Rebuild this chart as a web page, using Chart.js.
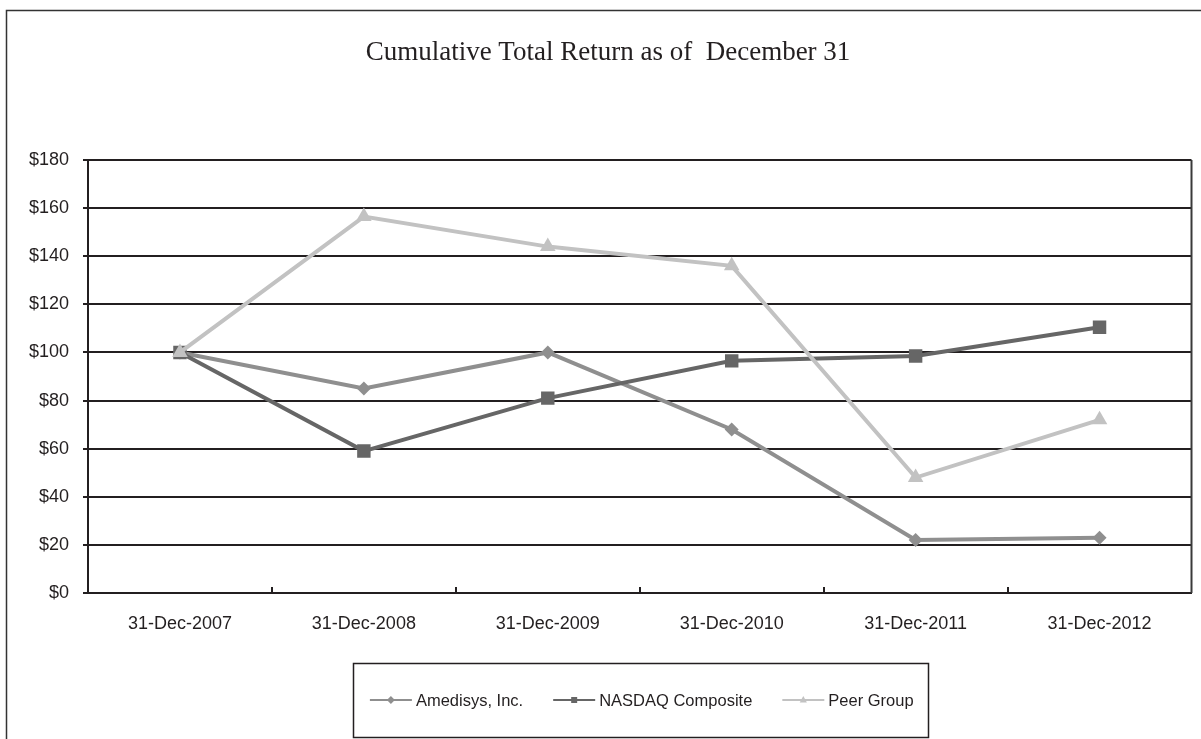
<!DOCTYPE html>
<html>
    <head>
        <title>Cumulative Total Return</title>
        <meta charset="UTF-8">
        <script src="https://cdn.jsdelivr.net/npm/chart.js@4"></script>
        <style>
            html, body { margin: 0; padding: 0; background: #fff; }
            #wrap { width: 1201px; height: 739px; }
        </style>
    </head>
    <body>
        <div id="wrap"><canvas id="myChart" width="1201" height="739"></canvas></div>
        <script>
            let years = ['31-Dec-2007', '31-Dec-2008', '31-Dec-2009', '31-Dec-2010', '31-Dec-2011', '31-Dec-2012'];
            let amedisys = [100, 85, 100, 68, 22, 23];
            let nasdaq = [100, 59, 81, 96.5, 98.5, 110.5];
            let peerGroup = [100, 156.5, 144, 136, 48, 72];
            let seriesNames = ['Amedisys, Inc.', 'NASDAQ Composite', 'Peer Group'];
            let chartTitle = 'Cumulative Total Return as of  December 31';

            let ink = '#231f20';
            let sans = '"Liberation Sans", Arial, sans-serif';

            // draws a marker shape for the legend
            function drawMarker(ctx, style, x, y, r) {
                ctx.beginPath();
                if (style === 'rectRot') {
                    ctx.moveTo(x, y - r); ctx.lineTo(x + r, y); ctx.lineTo(x, y + r); ctx.lineTo(x - r, y);
                } else if (style === 'rect') {
                    ctx.rect(x - r * 0.75, y - r * 0.75, r * 1.5, r * 1.5);
                } else {
                    ctx.moveTo(x, y - r); ctx.lineTo(x + r * 0.9, y + r * 0.6); ctx.lineTo(x - r * 0.9, y + r * 0.6);
                }
                ctx.closePath();
                ctx.fill();
            }

            // frame, title, inside ticks, right border and boxed legend
            let decorations = {
                id: 'decorations',
                afterDraw(chart) {
                    let ctx = chart.ctx;
                    let area = chart.chartArea;
                    ctx.save();

                    ctx.strokeStyle = '#333';
                    ctx.lineWidth = 1.5;
                    ctx.strokeRect(6.5, 10.5, 1210, 800);

                    ctx.fillStyle = ink;
                    ctx.font = '27px "Liberation Serif", "Times New Roman", serif';
                    ctx.textAlign = 'center';
                    ctx.textBaseline = 'alphabetic';
                    ctx.fillText(chartTitle, 608, 60);

                    // plot right border
                    ctx.strokeStyle = '#3a3a3a';
                    ctx.lineWidth = 2;
                    ctx.beginPath();
                    ctx.moveTo(area.right, area.top);
                    ctx.lineTo(area.right, area.bottom);
                    ctx.stroke();

                    // category boundary ticks pointing up
                    ctx.strokeStyle = ink;
                    let step = (area.right - area.left) / years.length;
                    for (let i = 0; i < years.length; i++) {
                        let x = Math.round(area.left + i * step);
                        ctx.beginPath();
                        ctx.moveTo(x, area.bottom - 6);
                        ctx.lineTo(x, area.bottom);
                        ctx.stroke();
                    }

                    // legend
                    ctx.font = '16.5px ' + sans;
                    ctx.textAlign = 'left';
                    ctx.textBaseline = 'middle';
                    let sampleW = 42, gap = 4, spacing = 30;
                    let total = 0;
                    chart.data.datasets.forEach((ds, i) => {
                        total += sampleW + gap + ctx.measureText(ds.label).width;
                        if (i > 0) total += spacing;
                    });
                    let cx = (area.left + area.right) / 2;
                    let boxL = 353, boxR = 928, boxT = 663, boxB = 737;
                    ctx.strokeStyle = ink;
                    ctx.lineWidth = 1.5;
                    ctx.strokeRect(boxL + 0.5, boxT + 0.5, boxR - boxL, boxB - boxT);

                    let x = cx - total / 2 + 2;
                    let y = 700;
                    chart.data.datasets.forEach((ds) => {
                        ctx.strokeStyle = ds.borderColor;
                        ctx.lineWidth = 2;
                        ctx.beginPath();
                        ctx.moveTo(x, y);
                        ctx.lineTo(x + sampleW, y);
                        ctx.stroke();
                        ctx.fillStyle = ds.borderColor;
                        drawMarker(ctx, ds.pointStyle, x + sampleW / 2, y, 4);
                        ctx.fillStyle = ink;
                        ctx.fillText(ds.label, x + sampleW + gap, y + 1);
                        x += sampleW + gap + ctx.measureText(ds.label).width + spacing;
                    });

                    ctx.restore();
                }
            };

            let ctx = document.getElementById('myChart').getContext('2d');
            let chart = new Chart(ctx, {
                type: 'line',
                data: {
                    labels: years,
                    datasets: [{
                        label: seriesNames[0],
                        data: amedisys,
                        borderColor: '#8f8f8f',
                        backgroundColor: '#8f8f8f',
                        borderWidth: 4,
                        pointStyle: 'rectRot',
                        pointRadius: 7,
                        pointBorderWidth: 0,
                        tension: 0,
                        order: 3
                    }, {
                        label: seriesNames[1],
                        data: nasdaq,
                        borderColor: '#666666',
                        backgroundColor: '#666666',
                        borderWidth: 4,
                        pointStyle: 'rect',
                        pointRadius: 9.5,
                        pointBorderWidth: 0,
                        tension: 0,
                        order: 2
                    }, {
                        label: seriesNames[2],
                        data: peerGroup,
                        borderColor: '#c2c2c2',
                        backgroundColor: '#c2c2c2',
                        borderWidth: 4,
                        pointStyle: 'triangle',
                        pointRadius: 9,
                        pointBorderWidth: 0,
                        tension: 0,
                        order: 1
                    }]
                },
                options: {
                    responsive: false,
                    animation: false,
                    layout: {
                        padding: { left: 0, right: 8, top: 160, bottom: 0 }
                    },
                    plugins: {
                        legend: { display: false },
                        title: { display: false },
                        tooltip: { enabled: false }
                    },
                    scales: {
                        x: {
                            offset: true,
                            grid: { display: false, drawTicks: false },
                            border: { display: true, color: ink, width: 2 },
                            ticks: {
                                color: ink,
                                padding: 20,
                                maxRotation: 0,
                                font: { family: sans, size: 18 }
                            },
                            afterFit: (scale) => { scale.height = 146; }
                        },
                        y: {
                            min: 0,
                            max: 180,
                            grid: {
                                color: ink,
                                lineWidth: 2,
                                tickLength: 5,
                                drawTicks: true
                            },
                            border: { display: true, color: ink, width: 2 },
                            ticks: {
                                stepSize: 20,
                                color: ink,
                                padding: 14,
                                font: { family: sans, size: 18 },
                                callback: (v) => '$' + v
                            },
                            afterFit: (scale) => { scale.width = 88; }
                        }
                    }
                },
                plugins: [decorations]
            });
        </script>
    </body>
</html>
